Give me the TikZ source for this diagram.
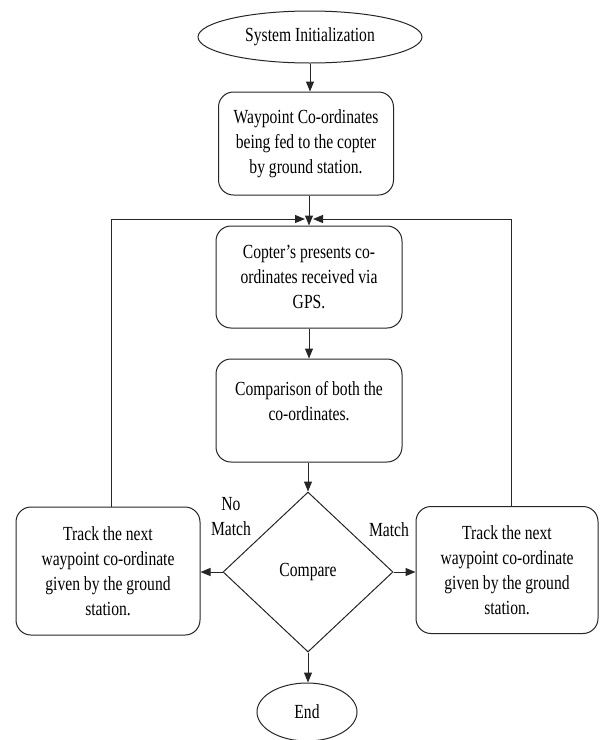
\documentclass[tikz,border=0pt]{standalone}
\usepackage{fontspec}
\setmainfont{Liberation Serif}[FakeStretch=0.78]
\usetikzlibrary{shapes.geometric,arrows.meta}
\definecolor{linec}{HTML}{262626}
\begin{document}
\begin{tikzpicture}[x=1pt,y=-1pt,
  base/.style={font=\fontsize{20}{25}\selectfont, text=black},
  term/.style={base, draw=linec, line width=1pt, ellipse, inner sep=0pt},
  proc/.style={base, draw=linec, line width=1pt, rounded corners=15pt, align=center, inner sep=0pt},
  dec/.style={base, draw=linec, line width=1pt, diamond, inner sep=0pt},
  lbl/.style={base, align=center, inner sep=0pt},
  conn/.style={draw=linec, line width=1pt, -{Triangle[length=10pt,width=8pt]}}]
\useasboundingbox[fill=white] (0,0) rectangle (600,740);

\node[term, minimum width=224pt, minimum height=52pt] (start) at (310,37) {System Initialization};
\node[proc, minimum width=175pt, minimum height=103pt] (b1) at (306,143.5)
  {Waypoint Co-ordinates\\being fed to the copter\\by ground station.};
\node[proc, minimum width=186pt, minimum height=102pt] (b2) at (309,277)
  {Copter’s presents co-\\ordinates received via\\GPS.};
\node[proc, minimum width=186pt, minimum height=103pt] (b3) at (309,410.5) {};
\node[lbl] (b3t) at (309,401) {Comparison of both the\\co-ordinates.};
\node[dec, minimum width=170pt, minimum height=160pt] (dia) at (308,572) {Compare};
\node[proc, minimum width=184pt, minimum height=128pt] (lb) at (108,571)
  {Track the next\\waypoint co-ordinate\\given by the ground\\station.};
\node[proc, minimum width=182pt, minimum height=127pt] (rb) at (507,570)
  {Track the next\\waypoint co-ordinate\\given by the ground\\station.};
\node[term, minimum width=100pt, minimum height=58pt] (endn) at (307,712) {End};
\node[lbl] (nol) at (231,517) {No\\Match};
\node[lbl] (matl) at (389,530) {Match};

\coordinate (jl) at (305,219);
\coordinate (jr) at (313,219);

\draw[conn] (start.south) -- (start.south |- b1.north);
\draw[conn] (b1.south -| b2.north) -- (b2.north);
\draw[conn] ([xshift=3pt]lb.north) |- (jl);
\draw[conn] ([xshift=4pt]rb.north) |- (jr);
\draw[conn] (b2.south) -- (b3.north);
\draw[conn] (b3.south -| dia.north) -- (dia.north);
\draw[conn] (dia.west) -- (lb.east |- dia.west);
\draw[conn] (dia.east) -- (rb.west |- dia.east);
\draw[conn] (dia.south) -- (dia.south |- endn.north);
\end{tikzpicture}
\end{document}
